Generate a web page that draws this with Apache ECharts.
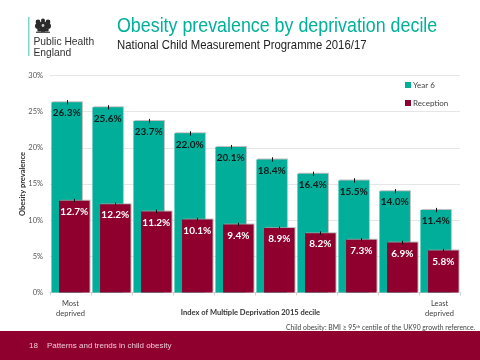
<!DOCTYPE html>
<html><head><meta charset="utf-8">
<style>html,body{margin:0;padding:0;background:#fff}#c{width:480px;height:360px}</style>
<script src="https://cdn.jsdelivr.net/npm/echarts@6/dist/echarts.min.js"></script>
</head><body><div id="c"></div>
<script>
var deciles = ['Most\ndeprived','','','','','','','','','Least\ndeprived'];
var year6 = [26.3,25.6,23.7,22.0,20.1,18.4,16.4,15.5,14.0,11.4];
var reception = [12.7,12.2,11.2,10.1,9.4,8.9,8.2,7.3,6.9,5.8];
var year6Err = [0.3,0.3,0.3,0.3,0.3,0.3,0.3,0.3,0.3,0.3];
var receptionErr = [0.25,0.25,0.25,0.25,0.25,0.25,0.25,0.25,0.25,0.25];
var yTicks = {min:0,max:30,interval:5};

var TEAL='#00ae9a', WINE='#90002f';
var BW=30.5, GAP='-75%', OFF=3.85;
function errSeries(vals, errs, shift){
  return {type:'custom',silent:true,z:6,
    data:vals.map(function(v,i){return [i,v-errs[i],v+errs[i]];}),
    encode:{x:0,y:[1,2]},
    renderItem:function(p,api){
      var a=api.coord([api.value(0),api.value(1)]), b=api.coord([api.value(0),api.value(2)]);
      var x=Math.round(a[0]+shift)+0.5;
      return {type:'line',shape:{x1:x,y1:a[1],x2:x,y2:b[1]},style:{stroke:'#111',lineWidth:1}};
    }};
}
function bar(name,vals,color,textColor){
  return {name:name,type:'bar',data:vals,barWidth:BW,barGap:GAP,
    itemStyle:{color:color,shadowColor:'rgba(165,165,165,0.7)',shadowBlur:0,shadowOffsetX:1,shadowOffsetY:-1},
    label:{show:true,position:'insideTop',distance:6,color:textColor,fontFamily:'Lato',fontWeight:'bold',fontSize:10,
      formatter:function(p){return p.value.toFixed(1)+'%';}}};
}
var crestBlobs=[[4,4,2.4],[14,4,2.4],[9,2.5,2],[4,8,3],[14,8,3],[9,7,3.8],[9,11,3.4],[5,12,1.8],[13,12,1.8]];
var crest=crestBlobs.map(function(b){return {type:'circle',shape:{cx:b[0],cy:b[1],r:b[2]},style:{fill:'#2a2a2a'}};});
crest.push({type:'rect',shape:{x:2,y:13.6,width:14,height:1.4},style:{fill:'#555'}});
crest.push({type:'circle',shape:{cx:9,cy:7.5,r:1.4},style:{fill:'#ccc'}});
var chart=echarts.init(document.getElementById('c'),null,{renderer:'canvas'});
chart.setOption({
  animation:false,
  grid:{left:50,right:20,top:75.5,bottom:67.5,containLabel:false},
  legend:{data:['Year 6','Reception'],orient:'vertical',left:400,top:76,itemWidth:6,itemHeight:6,itemGap:10,
    icon:'rect',textStyle:{fontFamily:'Lato',fontSize:8,color:'#444',padding:[0,0,0,-3]}},
  xAxis:{type:'category',data:deciles,
    axisLine:{lineStyle:{color:'#d0d0d0'}},axisTick:{show:true,length:3,lineStyle:{color:'#d0d0d0'}},
    axisLabel:{interval:0,fontFamily:'Lato',fontSize:7.5,color:'#444',lineHeight:10,margin:6},
    name:'Index of Multiple Deprivation 2015 decile',nameLocation:'middle',nameGap:16,nameMoveOverlap:false,
    nameTextStyle:{fontFamily:'Lato',fontWeight:'bold',fontSize:7.5,color:'#333',padding:[0,9,0,0]}},
  yAxis:{type:'value',min:yTicks.min,max:yTicks.max,interval:yTicks.interval,
    axisLine:{show:false},axisTick:{show:false},
    splitLine:{lineStyle:{color:'#e6e6e6',width:1}},
    axisLabel:{formatter:'{value}%',fontFamily:'Lato',fontSize:7.5,color:'#555',margin:7},
    name:'Obesity prevalence',nameLocation:'middle',nameGap:23,nameMoveOverlap:false,
    nameTextStyle:{fontFamily:'Lato',fontWeight:'bold',fontSize:7.5,color:'#333'}},
  series:[bar('Year 6',year6,TEAL,'#0b1a18'),bar('Reception',reception,WINE,'#fff'),
    errSeries(year6,year6Err,-OFF),errSeries(reception,receptionErr,OFF)],
  graphic:[
    {type:'rect',left:0,top:331,shape:{width:480,height:29},style:{fill:WINE},silent:true},
    {type:'rect',left:28,top:17,shape:{width:1.5,height:39},style:{fill:'#7fd6cc'},silent:true},
    {type:'group',x:34,y:18,silent:true,children:crest},
    {type:'text',x:33.5,y:36,style:{text:'Public Health\nEngland',font:'10.3px "Liberation Sans"',fill:'#333',lineHeight:11.5}},
    {type:'text',x:117,y:16,scaleX:0.87,style:{text:'Obesity prevalence by deprivation decile',font:'20.5px "Liberation Sans"',fill:'#00b09b'}},
    {type:'text',x:117,y:39,scaleX:0.9,style:{text:'National Child Measurement Programme 2016/17',font:'12.6px "Liberation Sans"',fill:'#222'}},
    {type:'text',x:286,y:324,style:{
      rich:{a:{font:'6.8px Lato',fill:'#444'},s:{font:'4.5px Lato',fill:'#444',verticalAlign:'top'}},
      text:'{a|Child obesity: BMI ≥ 95}{s|th}{a| centile of the UK90 growth reference.}'}},
    {type:'text',x:29,y:342,style:{text:'18',font:'8px "Liberation Sans"',fill:'#f0c8d4'}},
    {type:'text',x:47,y:342,style:{text:'Patterns and trends in child obesity',font:'8px "Liberation Sans"',fill:'#f0c8d4'}}
  ]
});
</script></body></html>
